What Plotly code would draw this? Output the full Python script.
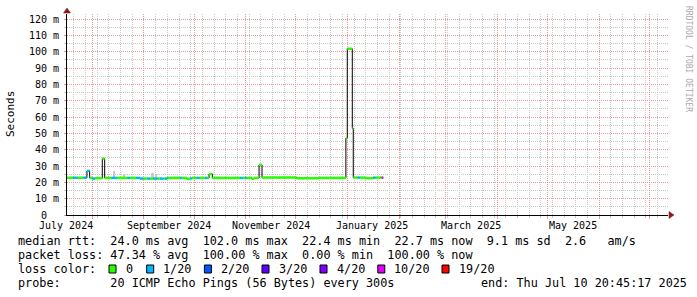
import plotly.graph_objects as go
from datetime import datetime

# ---------------- data ----------------
seg_start = [
    "2024-07-16 20:00", "2024-07-20 14:00", "2024-07-23 00:00", "2024-07-26 14:00",
    "2024-07-28 19:00", "2024-07-30 10:00", "2024-08-01 00:00", "2024-08-02 14:00",
    "2024-08-07 00:00", "2024-08-08 10:00", "2024-08-12 14:00", "2024-08-15 14:00",
    "2024-08-22 05:00", "2024-08-23 14:00", "2024-08-27 05:00", "2024-08-29 14:00",
    "2024-08-31 14:00", "2024-09-03 00:00", "2024-09-04 14:00", "2024-09-06 14:00",
    "2024-09-09 00:00", "2024-09-10 14:00", "2024-09-12 14:00", "2024-09-13 14:00",
    "2024-09-15 00:00", "2024-09-22 14:00", "2024-09-23 19:00", "2024-09-26 14:00",
    "2024-09-28 14:00", "2024-09-29 19:00", "2024-10-02 14:00", "2024-10-04 05:00",
    "2024-10-07 19:00", "2024-10-09 00:00", "2024-10-10 00:00", "2024-10-12 00:00",
    "2024-10-28 14:00", "2024-10-30 05:00", "2024-10-31 14:00", "2024-11-01 14:00",
    "2024-11-04 14:00", "2024-11-06 00:00", "2024-11-09 00:00", "2024-11-10 19:00",
    "2024-12-01 14:00", "2024-12-14 12:00", "2024-12-31 02:00", "2024-12-31 22:00",
    "2025-01-03 22:00", "2025-01-04 12:00", "2025-01-07 02:00", "2025-01-08 12:00",
    "2025-01-11 12:00", "2025-01-16 12:00", "2025-01-17 17:00", "2025-01-21 12:00",
]
seg_median_ms = [
    22.8, 22.8, 22.8, 22.8, 27.0, 22.7, 22.3, 22.5,
    34.5, 22.7, 22.7, 22.7, 22.7, 22.7, 22.7, 22.3,
    22.3, 22.3, 22.3, 22.3, 22.3, 22.3, 22.3, 22.3,
    22.7, 22.7, 22.7, 22.2, 22.4, 22.7, 22.7, 22.7,
    22.7, 22.7, 25.1, 22.7, 22.7, 22.7, 22.7, 22.7,
    22.2, 22.7, 30.7, 22.9, 22.5, 22.7, 47.0, 101.8,
    53.0, 22.9, 22.9, 22.9, 22.5, 22.9, 22.9, 22.9,
]
seg_loss = [
    "0", "1/20", "0", "1/20", "1/20", "0", "1/20", "0",
    "0", "0", "1/20", "0", "1/20", "0", "1/20", "1/20",
    "0", "1/20", "0", "1/20", "0", "1/20", "0", "1/20",
    "0", "1/20", "0", "0", "1/20", "0", "1/20", "0",
    "1/20", "0", "0", "0", "1/20", "0", "1/20", "0",
    "0", "0", "0", "0", "0", "0", "0", "0",
    "0", "0", "1/20", "0", "0", "1/20", "0", "10/20",
]
data_end = "2025-01-22 12:00"

smoke_time = ["2024-08-13 22:00", "2024-08-19 22:00", "2024-09-06 02:00", "2024-09-08 08:00"]
smoke_low_ms = [22.5, 22.5, 22.4, 22.4]
smoke_high_ms = [27.0, 25.0, 25.8, 24.9]

loss_labels = ["0", "1/20", "2/20", "3/20", "4/20", "10/20", "19/20"]
loss_colors = ["#26ff00", "#00b8ff", "#0059ff", "#5e00ff", "#7e00ff", "#dd00ff", "#ff0000"]

y_tick_ms = [0, 10, 20, 30, 40, 50, 60, 70, 80, 90, 100, 110, 120]
y_tick_text = ["0\u00a0\u00a0", "10 m", "20 m", "30 m", "40 m", "50 m", "60 m",
               "70 m", "80 m", "90 m", "100 m", "110 m", "120 m"]
x_label_dates = ["2024-07-16", "2024-09-16", "2024-11-16", "2025-01-16", "2025-03-16", "2025-05-16"]
x_label_text = ["July 2024", "September 2024", "November 2024", "January 2025", "March 2025", "May 2025"]

x_start = "2024-07-16 20:00"
x_end = "2025-07-12 05:36"

stats_lines = [
    "median rtt:  24.0 ms avg  102.0 ms max  22.4 ms min  22.7 ms now  9.1 ms sd  2.6   am/s",
    "packet loss: 47.34 % avg  100.00 % max  0.00 % min  100.00 % now",
]
probe_text = "probe:       20 ICMP Echo Pings (56 Bytes) every 300s"
end_text = "end: Thu Jul 10 20:45:17 2025"

# ---------------- layout geometry ----------------
W, H = 697, 297
L, R, T, B = 67, 29, 14, 82
PW, PH = W - L - R, H - T - B
Y_MAX = 123.06

MONO = "DejaVu Sans Mono"
RED_GRID = "#e99a9a"
GRAY_GRID = "#c9c9c9"
ARROW = "#8b1a1a"


def xp(px):
    return (px - L) / PW


def yp(py):
    return (T + PH - py) / PH


def nb(s):
    return s.replace(" ", "\u00a0")


def pdate(s):
    for fmt in ("%Y-%m-%d %H:%M", "%Y-%m-%d"):
        try:
            return datetime.strptime(s, fmt)
        except ValueError:
            pass


t0, t1 = pdate(x_start), pdate(x_end)


def date_paper(s):
    return (pdate(s) - t0).total_seconds() / (t1 - t0).total_seconds()


fig = go.Figure()

# smoke
fig.add_trace(go.Bar(
    x=smoke_time,
    y=[h - l for h, l in zip(smoke_high_ms, smoke_low_ms)],
    base=smoke_low_ms,
    width=[1.3 * 86400000] * len(smoke_time),
    marker=dict(color="#c8c8c8", line=dict(width=0)),
    showlegend=False, hoverinfo="skip",
))

# black median step line
fig.add_trace(go.Scatter(
    x=seg_start + [data_end],
    y=seg_median_ms + [seg_median_ms[-1]],
    mode="lines", line=dict(color="#000000", width=1, shape="hv"),
    showlegend=False, hoverinfo="skip",
))

# colored median band per loss class (drawn on the overlay axes, i.e. on top)
seg_end = seg_start[1:] + [data_end]
for lab, col in zip(loss_labels, loss_colors):
    xs, ys = [], []
    for s, e, v, l in zip(seg_start, seg_end, seg_median_ms, seg_loss):
        if l == lab:
            xs += [s, e, None]
            ys += [v, v, None]
    if xs:
        fig.add_trace(go.Scatter(
            x=xs, y=ys, mode="lines", xaxis="x2", yaxis="y2",
            line=dict(color=col, width=2.5),
            showlegend=False, hoverinfo="skip",
        ))

DOT = "1px,1px"
fig.update_layout(
    width=W, height=H, autosize=False,
    margin=dict(l=L, r=R, t=T, b=B, pad=0),
    paper_bgcolor="#ffffff", plot_bgcolor="#ffffff",
    bargap=0, barmode="overlay",
    font=dict(family=MONO, size=10, color="#000000"),
    # weekly minor grid
    xaxis=dict(
        type="date", range=[x_start, x_end],
        showgrid=True, gridcolor=GRAY_GRID, griddash=DOT, gridwidth=1,
        tickmode="linear", dtick=7 * 86400000, tick0="2024-07-28",
        ticks="outside", ticklen=2, tickcolor=GRAY_GRID,
        showticklabels=False,
        showline=True, linecolor="#000000", linewidth=1,
        zeroline=False, layer="above traces",
    ),
    # monthly major grid
    xaxis2=dict(
        type="date", range=[x_start, x_end], overlaying="x", anchor="y2",
        showgrid=True, gridcolor=RED_GRID, griddash=DOT, gridwidth=1,
        dtick="M1", tick0="2024-08-01",
        ticks="outside", ticklen=3, tickcolor=RED_GRID,
        showticklabels=False, showline=False, zeroline=False,
    ),
    # 5 ms minor grid
    yaxis=dict(
        range=[0, Y_MAX],
        tickmode="linear", dtick=5, tick0=0,
        showgrid=True, gridcolor=GRAY_GRID, griddash=DOT, gridwidth=1,
        ticks="outside", ticklen=2, tickcolor=GRAY_GRID,
        showticklabels=False,
        showline=True, linecolor="#000000", linewidth=1,
        zeroline=False,
    ),
    # 10 ms major grid with labels
    yaxis2=dict(
        range=[0, Y_MAX], overlaying="y", anchor="x2", side="left",
        tickmode="array", tickvals=y_tick_ms, ticktext=y_tick_text,
        showgrid=True, gridcolor=RED_GRID, griddash=DOT, gridwidth=1,
        ticks="outside", ticklen=2, tickcolor=RED_GRID,
        tickfont=dict(family=MONO, size=10, color="#000000"),
        ticklabelstandoff=3,
        showline=False, zeroline=False,
    ),
)

annotations = []
# month labels
for d, t in zip(x_label_dates, x_label_text):
    annotations.append(dict(x=date_paper(d), xref="paper", y=0, yref="paper", yanchor="top", yshift=-3,
                            text=nb(t), showarrow=False, xanchor="center",
                            font=dict(family=MONO, size=10, color="#000000")))
# y title
annotations.append(dict(x=xp(11), y=yp(114), xref="paper", yref="paper", text="Seconds",
                        textangle=-90, showarrow=False, xanchor="center", yanchor="middle",
                        font=dict(family=MONO, size=11, color="#000000")))
# watermark
annotations.append(dict(x=xp(688), y=yp(59), xref="paper", yref="paper",
                        text=nb("RRDTOOL / TOBI OETIKER"), textangle=90, showarrow=False,
                        xanchor="center", yanchor="middle",
                        font=dict(family=MONO, size=8, color="#aaaaaa")))

LEG = 11.8
rows_y = [241, 255, 269, 283]
for i, s in enumerate(stats_lines):
    annotations.append(dict(x=xp(16), y=yp(rows_y[i]), xref="paper", yref="paper",
                            text=nb(s), showarrow=False, xanchor="left", yanchor="middle",
                            font=dict(family=MONO, size=LEG, color="#000000")))
annotations.append(dict(x=xp(16), y=yp(rows_y[2]), xref="paper", yref="paper",
                        text=nb("loss color:"), showarrow=False, xanchor="left", yanchor="middle",
                        font=dict(family=MONO, size=LEG, color="#000000")))
box_x = [109, 146.7, 204.4, 262, 320, 377.8, 442]
shapes = []
for bx, lab, col in zip(box_x, loss_labels, loss_colors):
    shapes.append(dict(type="rect", xref="paper", yref="paper",
                       xsizemode="pixel", ysizemode="pixel",
                       xanchor=xp(bx), yanchor=yp(rows_y[2]),
                       x0=0, x1=7, y0=-4, y1=4,
                       fillcolor=col, line=dict(color="#000000", width=1)))
    annotations.append(dict(x=xp(bx + 14.6), y=yp(rows_y[2]), xref="paper", yref="paper",
                            text=lab, showarrow=False, xanchor="left", yanchor="middle",
                            font=dict(family=MONO, size=LEG, color="#000000")))
annotations.append(dict(x=xp(16), y=yp(rows_y[3]), xref="paper", yref="paper",
                        text=nb(probe_text), showarrow=False, xanchor="left", yanchor="middle",
                        font=dict(family=MONO, size=LEG, color="#000000")))
annotations.append(dict(x=xp(479), y=yp(rows_y[3]), xref="paper", yref="paper",
                        text=nb(end_text), showarrow=False, xanchor="left", yanchor="middle",
                        font=dict(family=MONO, size=LEG, color="#000000")))

# axis arrows
shapes.append(dict(type="path", xref="paper", yref="paper", xsizemode="pixel", ysizemode="pixel",
                   xanchor=1, yanchor=0, path="M 1,-3.5 L 6,0 L 1,3.5 Z",
                   fillcolor=ARROW, line=dict(color=ARROW, width=0.5)))
shapes.append(dict(type="path", xref="paper", yref="paper", xsizemode="pixel", ysizemode="pixel",
                   xanchor=0, yanchor=1, path="M -3.5,1 L 3.5,1 L 0,6 Z",
                   fillcolor=ARROW, line=dict(color=ARROW, width=0.5)))

fig.update_layout(annotations=annotations, shapes=shapes)
fig.write_html("out.html")
